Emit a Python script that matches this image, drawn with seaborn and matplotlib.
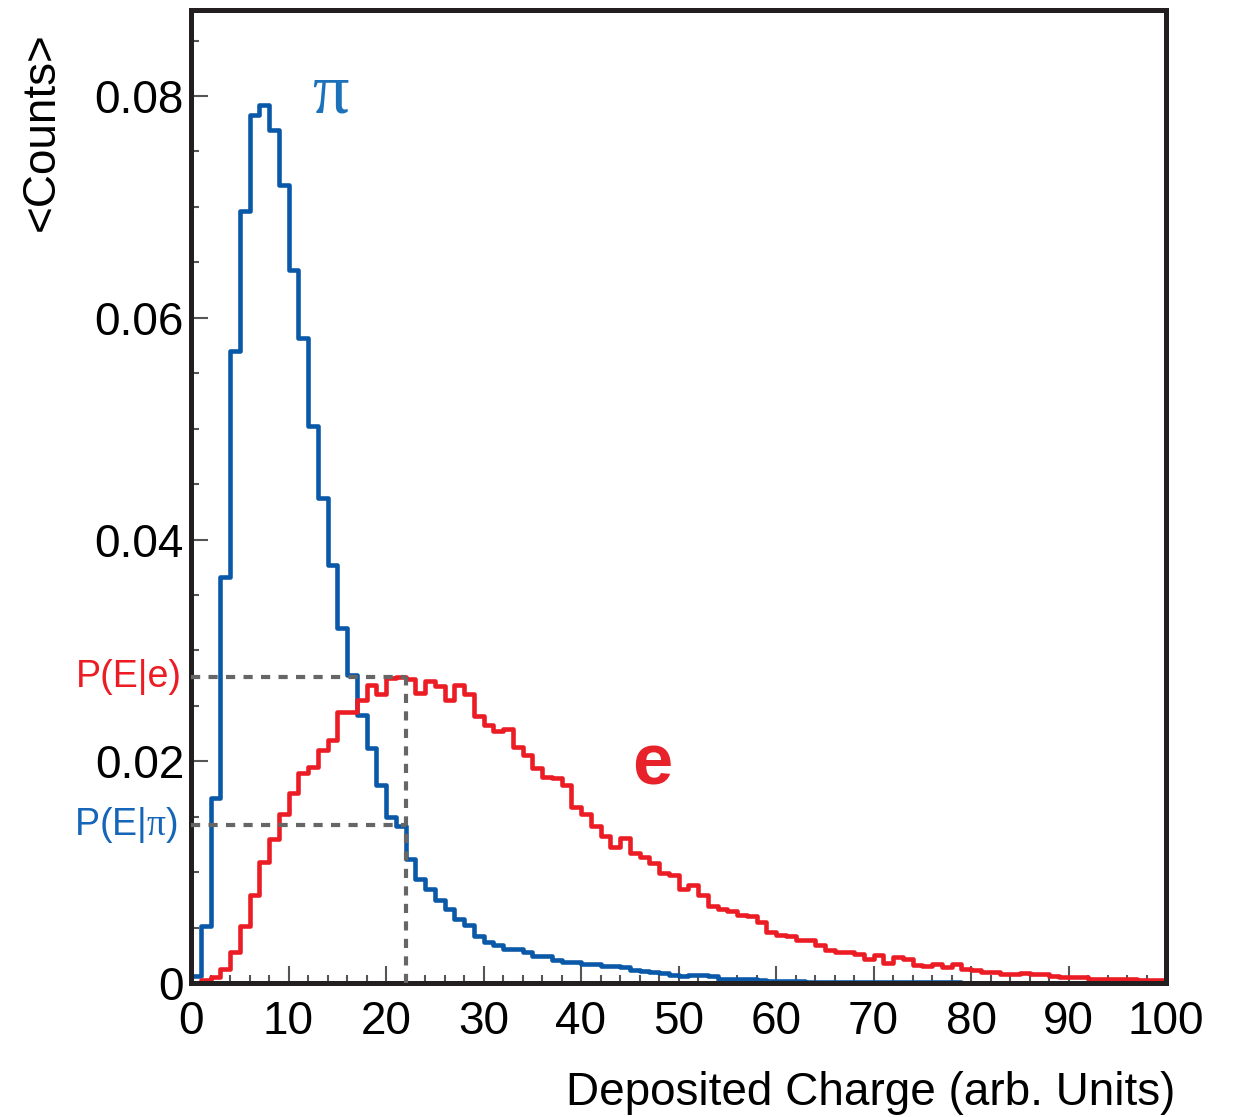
import numpy as np
import pandas as pd
import matplotlib
matplotlib.use("Agg")
import matplotlib.pyplot as plt
from matplotlib.ticker import MultipleLocator, FuncFormatter
import seaborn as sns

# bin edges (unit width, 0..100)
bin_edges = np.arange(0, 101, 1)
bin_centers = bin_edges[:-1] + 0.5

# pion response, read per bin
pi_counts = [
    0.0006, 0.0051, 0.0167, 0.0366, 0.0570, 0.0696, 0.0783, 0.0792, 0.0769, 0.0720,
    0.0643, 0.0582, 0.0502, 0.0437, 0.0377, 0.0320, 0.0278, 0.0242, 0.0212, 0.0179,
    0.0150, 0.0142, 0.0112, 0.0094, 0.0085, 0.0075, 0.0067, 0.0058, 0.0052, 0.0042,
    0.0037, 0.0034, 0.0031, 0.0031, 0.0028, 0.0024, 0.0024, 0.0021, 0.0019, 0.0019,
    0.0017, 0.0017, 0.0015, 0.0015, 0.0014, 0.0012, 0.0011, 0.0010, 0.0009, 0.0007,
    0.0006, 0.0007, 0.0007, 0.0006, 0.0004, 0.0004, 0.0004, 0.0004, 0.0003, 0.0002,
    0.0002, 0.0002, 0.0002, 0.0001, 0.0001, 0.0001, 0.0001, 0.0001, 0.0001, 0.0001,
    0.0001, 0.0001, 0.0001, 0.0001, 0.0001, 0.0001, 0.0001, 0.0001, 0.0001, 0.0000,
    0.0000, 0.0000, 0.0000, 0.0000, 0.0000, 0.0000, 0.0000, 0.0000, 0.0000, 0.0000,
    0.0000, 0.0000, 0.0000, 0.0000, 0.0000, 0.0000, 0.0000, 0.0000, 0.0000, 0.0000,
]

# electron response
e_counts = [
    0.0000, 0.0003, 0.0005, 0.0013, 0.0028, 0.0051, 0.0079, 0.0109, 0.0130, 0.0152,
    0.0171, 0.0189, 0.0195, 0.0210, 0.0219, 0.0244, 0.0244, 0.0255, 0.0269, 0.0261,
    0.0275, 0.0276, 0.0274, 0.0262, 0.0272, 0.0268, 0.0255, 0.0269, 0.0261, 0.0241,
    0.0233, 0.0227, 0.0229, 0.0213, 0.0206, 0.0194, 0.0186, 0.0185, 0.0179, 0.0159,
    0.0152, 0.0142, 0.0133, 0.0123, 0.0131, 0.0117, 0.0114, 0.0108, 0.0099, 0.0097,
    0.0085, 0.0088, 0.0079, 0.0069, 0.0067, 0.0065, 0.0061, 0.0060, 0.0055, 0.0046,
    0.0043, 0.0042, 0.0039, 0.0039, 0.0034, 0.0030, 0.0028, 0.0028, 0.0026, 0.0022,
    0.0025, 0.0018, 0.0023, 0.0022, 0.0016, 0.0015, 0.0017, 0.0014, 0.0017, 0.0013,
    0.0012, 0.0010, 0.0010, 0.0008, 0.0008, 0.0009, 0.0008, 0.0008, 0.0006, 0.0005,
    0.0005, 0.0005, 0.0004, 0.0004, 0.0004, 0.0004, 0.0004, 0.0003, 0.0003, 0.0003,
]

# example cut and the two likelihoods read at it
cut_x = 22
p_e = 0.0276
p_pi = 0.01425

y_ticks = [0, 0.02, 0.04, 0.06, 0.08]
x_ticks = list(range(0, 101, 10))

df = pd.DataFrame({
    "charge": np.concatenate([bin_centers, bin_centers]),
    "counts": np.concatenate([pi_counts, e_counts]),
    "particle": ["pi"] * len(bin_centers) + ["e"] * len(bin_centers),
})

BLUE = "#0a58a8"
RED = "#ec1c24"

sns.set_style("ticks")
plt.rcParams["font.family"] = ["Liberation Sans", "DejaVu Sans"]
plt.rcParams["mathtext.fontset"] = "custom"
plt.rcParams["mathtext.rm"] = "Liberation Serif"
plt.rcParams["mathtext.it"] = "Liberation Serif:italic"
plt.rcParams["text.color"] = "black"

fig = plt.figure(figsize=(12.42, 11.17), dpi=100)
ax = fig.add_axes([191 / 1242, 1 - 983 / 1117, (1166 - 191) / 1242, (983 - 10) / 1117])

sns.histplot(data=df[df.particle == "pi"], x="charge", weights="counts",
             binwidth=1, binrange=(0, 100),
             element="step", fill=False, color=BLUE, linewidth=3.3, ax=ax)
sns.histplot(data=df[df.particle == "e"], x="charge", weights="counts",
             binwidth=1, binrange=(0, 100),
             element="step", fill=False, color=RED, linewidth=3.3, ax=ax)

# dashed guide lines
dash_kw = dict(color="#666666", linewidth=3, linestyle=(0, (2.2, 2.0)), zorder=3)
ax.plot([0, cut_x], [p_e, p_e], **dash_kw)
ax.plot([0, cut_x], [p_pi, p_pi], **dash_kw)
ax.plot([cut_x, cut_x], [0, p_e], **dash_kw)

ax.set_xlim(0, 100)
ax.set_ylim(0, 0.08776)
ax.set_xlabel("")
ax.set_ylabel("")

ax.set_xticks(x_ticks)
ax.set_yticks(y_ticks)
ax.xaxis.set_minor_locator(MultipleLocator(2))
ax.yaxis.set_minor_locator(MultipleLocator(0.005))
ax.yaxis.set_major_formatter(FuncFormatter(lambda v, p: "0" if v == 0 else f"{v:.2f}"))
ax.tick_params(which="both", direction="in", top=False, right=False,
               color="#555555", width=1.5, labelcolor="black")
ax.tick_params(which="major", length=12, labelsize=33)
ax.tick_params(which="minor", length=6)
ax.tick_params(axis="y", which="major", pad=5)
ax.tick_params(axis="x", which="major", pad=12)

for s in ax.spines.values():
    s.set_visible(True)
    s.set_linewidth(3.6)
    s.set_color("#231f20")

# annotations
ax.text(14.3, 0.0802, r"$\mathrm{\pi}$", color="#1b72bb", fontsize=52,
        ha="center", va="center")
ax.text(47.3, 0.0196, "e", color="#e8222a", fontsize=52, fontweight="bold",
        ha="center", va="center")
ax.text(-0.9, p_e, "P(E|e)", color=RED, fontsize=27, ha="right", va="center")
ax.text(-1.4, p_pi, r"P(E|$\mathrm{\pi}$)", color="#1565b8", fontsize=27,
        ha="right", va="center")

fig.text(42 / 1242, 1 - 132 / 1117, "<Counts>", rotation=90, fontsize=33,
         ha="center", va="center")
fig.text(1175 / 1242, 1 - 1093 / 1117, "Deposited Charge (arb. Units)", fontsize=33,
         ha="right", va="center")

fig.savefig("out.png", dpi=100)
